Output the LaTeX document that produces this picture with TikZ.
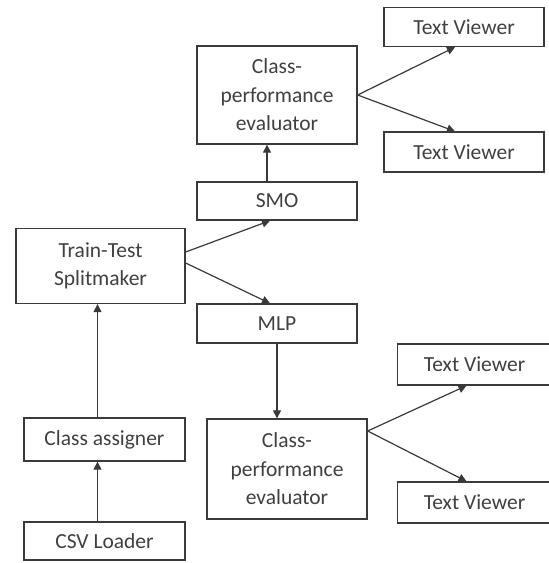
\documentclass[tikz,border=0pt]{standalone}
\usepackage{fontspec}
\setmainfont{Carlito}
\usetikzlibrary{arrows.meta,calc}
\definecolor{edgec}{HTML}{3A3A3A}
\definecolor{textc}{HTML}{404040}
\tikzset{
  box/.style={draw=edgec, line width=1.3pt, rectangle, inner sep=0pt,
    text=textc, align=center, font=\fontsize{21.5}{28.5}\selectfont},
  conn/.style={draw=edgec, line width=1.2pt, -{Triangle[length=8pt,width=8pt]}}
}
\begin{document}
\begin{tikzpicture}[x=1pt,y=-1pt]
\useasboundingbox[fill=white] (0,0) rectangle (549,563);
\node[box, minimum width=160pt, minimum height=98pt] (cpe1) at (277,95) {Class-\\performance\\evaluator};
\node[box, minimum width=160pt, minimum height=39pt] (tv1) at (464,27) {Text Viewer};
\node[box, minimum width=160pt, minimum height=40pt] (tv2) at (464,152) {Text Viewer};
\node[box, minimum width=160pt, minimum height=38pt] (smo) at (277,201) {SMO};
\node[box, minimum width=169pt, minimum height=75pt] (tts) at (100.5,266) {Train-Test\\Splitmaker};
\node[box, minimum width=160pt, minimum height=39pt] (mlp) at (277,323.5) {MLP};
\node[box, minimum width=161pt, minimum height=43pt] (ca) at (104.5,439.5) {Class assigner};
\node[box, minimum width=161pt, minimum height=38pt] (csv) at (104.5,541) {CSV Loader};
\node[box, minimum width=160pt, minimum height=100pt] (cpe2) at (287,469) {Class-\\performance\\evaluator};
\node[box, minimum width=154pt, minimum height=41pt] (tv3) at (474.5,364.5) {Text Viewer};
\node[box, minimum width=154pt, minimum height=41pt] (tv4) at (474.5,502.5) {Text Viewer};
\coordinate (s1) at ($(tts.east)+(0,-14)$);
\coordinate (s2) at ($(tts.east)+(0,-3)$);
\coordinate (j1) at (cpe1.east);
\coordinate (j2) at ($(cpe2.east)+(0,-38)$);
\coordinate (ca1) at ($(ca.north)+(-7,0)$);
\coordinate (csv1) at ($(csv.north)+(-7,0)$);
\coordinate (smo1) at ($(smo.north)+(-10,0)$);
\draw[conn] (s1) -- ($(smo.south)+(-7,0)$);
\draw[conn] (s2) -- ($(mlp.north)+(-7,0)$);
\draw[conn] (smo1) -- (smo1 |- cpe1.south);
\draw[conn] (j1) -- ($(tv1.south)+(-9,0)$);
\draw[conn] (j1) -- ($(tv2.north)+(-9,0)$);
\draw[conn] (mlp.south) -- (mlp.south |- cpe2.north);
\draw[conn] (ca1) -- (ca1 |- tts.south);
\draw[conn] (csv1) -- (csv1 |- ca.south);
\draw[conn] (j2) -- ($(tv3.south)+(-8,0)$);
\draw[conn] (j2) -- ($(tv4.north)+(-8,0)$);
\end{tikzpicture}
\end{document}
